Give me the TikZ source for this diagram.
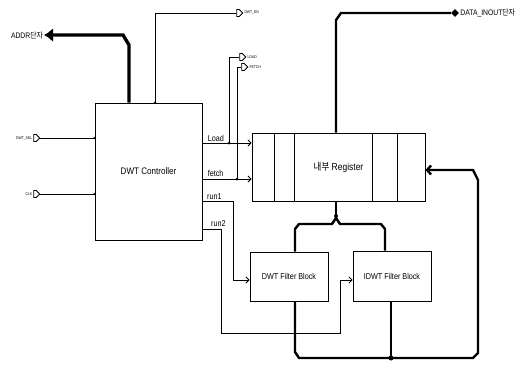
\documentclass[tikz,border=0pt]{standalone}
\usepackage{fontspec}
\setmainfont{Liberation Sans}[FakeStretch=0.85]
\newfontfamily\kr{Noto Sans CJK KR}[FakeStretch=0.85]
\usetikzlibrary{arrows.meta,positioning,shapes.geometric,shapes.symbols}
\tikzset{
  blk/.style={draw,line width=0.9pt,inner sep=0pt,font=\fontsize{8.5}{10}\selectfont},
  sig/.style={line width=0.9pt},
  sig arrow/.style={sig,-{Straight Barb[length=3pt,width=6pt]}},
  bus/.style={line width=2.4pt},
  bus arrow/.style={bus,-{Straight Barb[length=4pt,width=9pt]}},
  port/.style={signal,signal to=east,draw,line width=0.8pt,minimum width=6pt,minimum height=7pt,inner sep=0pt},
  port label/.style={font=\fontsize{4}{5}\selectfont,inner sep=1pt},
  wire label/.style={font=\fontsize{8.5}{10}\selectfont,inner sep=0pt,anchor=west},
  jdot/.style={circle,fill,inner sep=0pt,minimum size=3pt},
}
\begin{document}
\begin{tikzpicture}[x=1pt,y=-1pt]
  \useasboundingbox (0,0) rectangle (526,365);
  % blocks
  \node[blk,minimum width=107pt,minimum height=137pt,font=\fontsize{9.5}{11}\selectfont] (ctrl) at (148.5,171.5) {DWT Controller};
  \node[blk,minimum width=173pt,minimum height=68pt,font=\fontsize{10}{12}\selectfont] (reg) at (338.5,167) {{\kr 내부} Register};
  \foreach \x in {274,294,372,397}
    \draw[line width=0.9pt] (\x,133) -- (\x,201);
  \node[blk,minimum width=78pt,minimum height=49pt] (dwt) at (289,276.5) {DWT Filter Block};
  \node[blk,minimum width=78pt,minimum height=50pt] (idwt) at (392,276) {IDWT Filter Block};

  % ports
  \node[port] (sel) at (35,138) {};
  \node[port label,left=0pt of sel] {DWT\_SEL};
  \node[port] (clk) at (35,194) {};
  \node[port label,left=0pt of clk] {CLK};
  \node[port] (en) at (238,13) {};
  \node[port label,right=0pt of en] {DWT\_EN};
  \node[port] (ld) at (241,57) {};
  \node[port label,right=0pt of ld] {LOAD};
  \node[port] (fe) at (243,67) {};
  \node[port label,right=0pt of fe] {FETCH};
  \node[diamond,fill,inner sep=0pt,minimum size=8pt] (dio) at (455,13) {};
  \node[anchor=west,inner sep=1pt,font=\fontsize{8}{9}\selectfont] at (dio.east) {DATA\_INOUT{\kr 단자}};
  \coordinate (addr) at (44,35);
  \node[anchor=east,inner sep=1pt,font=\fontsize{8}{9}\selectfont] at (addr) {ADDR{\kr 단자}};

  % address and data buses
  \draw[line width=3.4pt,-{Latex[length=9pt,width=14pt]}] (ctrl.north -| 129,0) -- (129,45) -- (123,35) -- (addr);
  \draw[bus] (reg.north -| 336,0) -- (336,20) -- (341,13) -- (dio.west);

  % control inputs
  \draw[sig] (sel.east) -- (ctrl.west |- sel.east) node[jdot,minimum size=2.5pt]{};
  \draw[sig] (clk.east) -- (ctrl.west |- clk.east) node[jdot,minimum size=2.5pt]{};
  \draw[sig] (ctrl.north -| 155,0) node[jdot,minimum size=2.5pt]{} -- (155,13) -- (en.west);

  % load / fetch
  \draw[sig arrow] (ctrl.east |- 0,143) -- node[wire label,above,pos=0.1,anchor=south west,yshift=1pt]{Load} (reg.west |- 0,143);
  \draw[sig arrow] (ctrl.east |- 0,179) -- node[wire label,above,pos=0.1,anchor=south west,yshift=1.5pt]{fetch} (reg.west |- 0,179);
  \draw[sig] (ld.west) -- (229,57) -- (229,143) node[jdot]{};
  \draw[sig] (fe.west) -- (237,67) -- (237,179) node[jdot]{};

  % run signals
  \draw[sig arrow] (ctrl.east |- 0,201) -- (233,201) -- (233,280) -- (dwt.west |- 0,280);
  \node[wire label,anchor=south west] at (207,200) {run1};
  \draw[sig arrow] (ctrl.east |- 0,229) -- (221,229) -- (221,333) -- (340,333) -- (340,280) -- (idwt.west |- 0,280);
  \node[wire label,anchor=south west] at (211,227) {run2};

  % register to filter blocks
  \draw[bus] (reg.south -| 336,0) -- (336,218);
  \draw[bus] (336,218) -- (332,224) -- (299,224) -- (295,229) -- (dwt.north -| 295,0);
  \draw[bus] (336,218) -- (340,224) -- (381,224) -- (385,229) -- (idwt.north -| 385,0);
  \node[jdot,minimum size=4pt] at (336,216) {};

  % feedback
  \draw[bus arrow] (dwt.south -| 295,0) -- (295,352) -- (299,358) -- (473,358) -- (478,353) -- (478,180) -- (473,170) -- (reg.east |- 0,170);
  \draw[bus] (idwt.south -| 391,0) -- (391,358);
  \node[jdot,minimum size=5pt] at (391,358) {};
\end{tikzpicture}
\end{document}
